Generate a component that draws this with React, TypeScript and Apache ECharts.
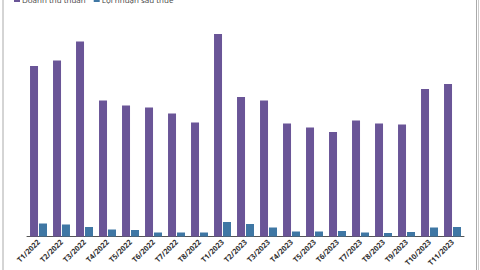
import React, { useEffect, useRef } from "react";
import * as echarts from "echarts";

const categories = [
  "T1/2022", "T2/2022", "T3/2022", "T4/2022", "T5/2022", "T6/2022", "T7/2022", "T8/2022",
  "T1/2023", "T2/2023", "T3/2023", "T4/2023", "T5/2023", "T6/2023", "T7/2023", "T8/2023",
  "T9/2023", "T10/2023", "T11/2023",
];
const revenue = [170.5, 176, 195, 136, 131, 129, 123, 114, 202.5, 139.5, 136, 113, 109, 104.5, 116, 113, 112, 147.5, 152.5];
const profit = [13, 12, 9.5, 7, 6.5, 4, 4, 4, 14.5, 12.5, 9, 5, 5, 5.5, 4, 3.5, 4.5, 9, 9.5];
const seriesNames = ["Doanh thu thuần", "Lợi nhuận sau thuế"];

export default function App() {
  const ref = useRef<HTMLDivElement>(null);
  useEffect(() => {
    if (!ref.current) return;
    const chart = echarts.init(ref.current, null, { renderer: "svg" });
    chart.setOption({
      animation: false,
      backgroundColor: "#ffffff",
      textStyle: { fontFamily: "Open Sans, sans-serif" },
      legend: {
        left: 9,
        top: -10,
        itemWidth: 6,
        itemHeight: 6,
        itemGap: 8,
        icon: "rect",
        textStyle: { fontSize: 8, color: "#444", padding: [0, 0, 0, -3] },
        data: seriesNames,
      },
      graphic: [
        { type: "line", shape: { x1: 3, y1: 0, x2: 3, y2: 270 }, style: { stroke: "#aaaaaa", lineWidth: 1 } },
        { type: "line", shape: { x1: 476.5, y1: 0, x2: 476.5, y2: 270 }, style: { stroke: "#aaaaaa", lineWidth: 1 } },
        { type: "line", shape: { x1: 478.5, y1: 0, x2: 478.5, y2: 270 }, style: { stroke: "#cccccc", lineWidth: 1 } },
      ],
      grid: { left: 27, right: 16, top: 26.5, bottom: 33.5 },
      xAxis: {
        type: "category",
        data: categories,
        axisLine: { lineStyle: { color: "#555", width: 1 } },
        axisTick: { alignWithLabel: true, length: 4, lineStyle: { color: "#555" } },
        axisLabel: { rotate: 45, fontSize: 7.5, color: "#333", fontWeight: "bold", margin: 4, interval: 0 },
      },
      yAxis: {
        type: "value",
        min: 0,
        max: 210,
        show: false,
        splitLine: { show: false },
      },
      series: [
        {
          name: seriesNames[0],
          type: "bar",
          data: revenue,
          barWidth: 8,
          barGap: "12%",
          itemStyle: { color: "#6a5597" },
        },
        {
          name: seriesNames[1],
          type: "bar",
          data: profit,
          barWidth: 8,
          itemStyle: { color: "#3f77a4" },
        },
      ],
    });
    return () => chart.dispose();
  }, []);
  return <div ref={ref} style={{ position: "fixed", left: 0, top: 0, width: 480, height: 270 }} />;
}
